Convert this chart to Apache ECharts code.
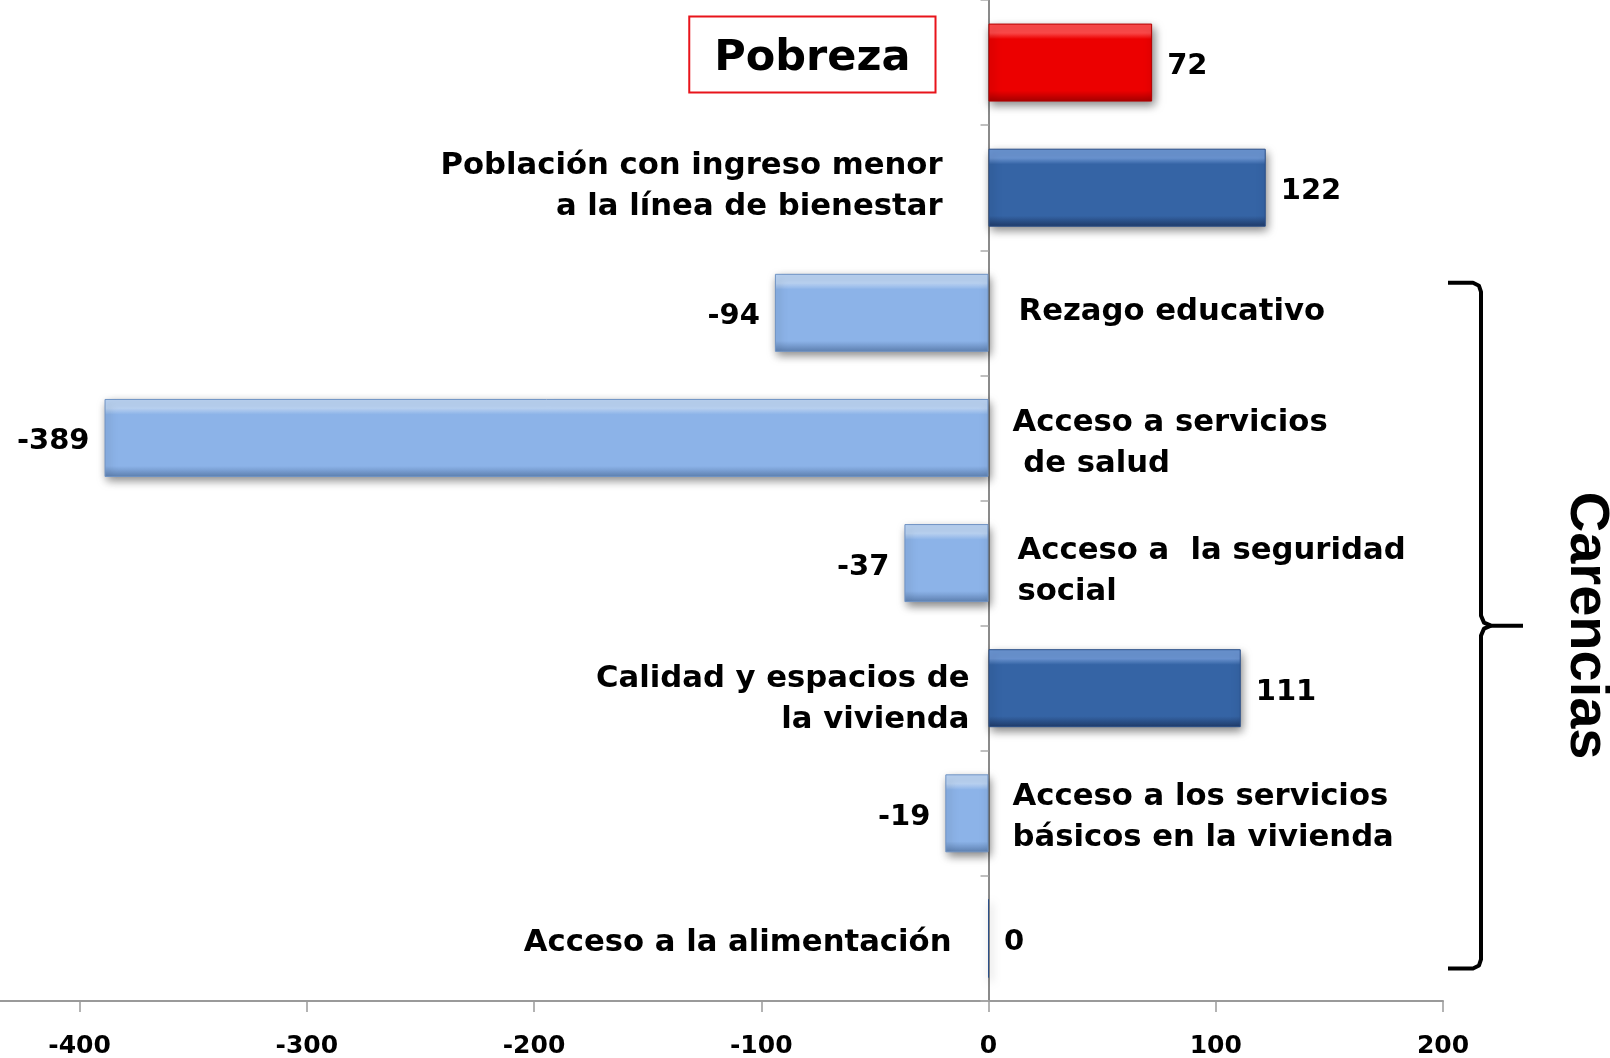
<!DOCTYPE html>
<html>
<head>
<meta charset="utf-8">
<script src="https://cdn.jsdelivr.net/npm/echarts@6/dist/echarts.min.js"></script>
<style>
    html, body { margin: 0; padding: 0; background: #fff; }
    #main { width: 1610px; height: 1058px; }
</style>
</head>
<body>
<div id="main"></div>
<script>
// datos
var categorias = [
    'Pobreza',
    'Población con ingreso menor\na la línea de bienestar',
    'Rezago educativo',
    'Acceso a servicios\n de salud',
    'Acceso a  la seguridad\nsocial',
    'Calidad y espacios de\nla vivienda',
    'Acceso a los servicios\nbásicos en la vivienda',
    'Acceso a la alimentación'
];
var valores = [72, 122, -94, -389, -37, 111, -19, 0];
var ticksX = [-400, -300, -200, -100, 0, 100, 200];
var grupo = 'Carencias';

// estilo de las etiquetas de categoria (distancia al eje, desplazamiento vertical)
var etqDist = [53, 46, 30, 24, 29, 19, 24, 37];
var etqDy = [-8, -1, -1, 6, 8, 11, 4, 5];

var FONT = 'DejaVu Sans';

function relleno(i, v) {
    var c;
    if (i === 0) c = ['#ff4a4a', '#ec0000', '#a80000'];
    else if (v >= 0) c = ['#6b95d3', '#3564a5', '#1f3b6a'];
    else c = ['#bcd5f5', '#8cb3e8', '#5f82b3'];
    return new echarts.graphic.LinearGradient(0, 0, 0, 1, [
        { offset: 0, color: c[0] },
        { offset: 0.12, color: c[0] },
        { offset: 0.2, color: c[1] },
        { offset: 0.86, color: c[1] },
        { offset: 1, color: c[2] }
    ]);
}

function borde(i, v) {
    if (i === 0) return '#b30000';
    return v >= 0 ? '#2a4f88' : '#6f93c4';
}

var chart = echarts.init(document.getElementById('main'));

chart.setOption({
    animation: false,
    grid: { left: 0, right: 167, top: 0, bottom: 57, containLabel: false, outerBoundsMode: 'none' },
    xAxis: {
        type: 'value',
        min: -435,
        max: 200,
        splitLine: { show: false },
        axisLine: { show: true, onZero: false, lineStyle: { color: '#9a9a9a', width: 2 } },
        axisTick: { show: true, customValues: ticksX, length: 11, lineStyle: { color: '#9a9a9a', width: 1.5 } },
        axisLabel: { customValues: ticksX, margin: 33, fontSize: 25, fontWeight: 'bold', color: '#000', fontFamily: FONT }
    },
    yAxis: {
        type: 'category',
        data: categorias,
        inverse: true,
        axisLine: { show: true, onZero: true, lineStyle: { color: '#8a8a8a', width: 2 } },
        axisTick: { show: true, length: 8, lineStyle: { color: '#aaa', width: 1.5 } },
        axisLabel: { show: false }
    },
    series: [
        {
            type: 'bar',
            barWidth: 78,
            data: valores.map(function (v, i) {
                return {
                    value: v,
                    itemStyle: { color: relleno(i, v), borderColor: borde(i, v), borderWidth: 1 },
                    label: { position: v < 0 ? 'left' : 'right' }
                };
            }),
            itemStyle: {
                shadowColor: 'rgba(0,0,0,0.5)',
                shadowBlur: 9,
                shadowOffsetX: 2,
                shadowOffsetY: 4
            },
            label: {
                show: true,
                distance: 15,
                offset: [0, 4],
                fontSize: 29,
                fontWeight: 'bold',
                fontFamily: FONT,
                color: '#000'
            }
        },
        {
            // nombres de categoria, del lado opuesto a la barra
            type: 'scatter',
            symbolSize: 0,
            silent: true,
            itemStyle: { opacity: 1 },
            data: categorias.map(function (c, i) {
                var izq = valores[i] >= 0;
                var lab = {
                    position: izq ? 'left' : 'right',
                    distance: etqDist[i],
                    offset: [0, etqDy[i]]
                };
                if (i === 0) {
                    lab.formatter = '{t|' + c + '}';
                    lab.borderColor = '#e8141b';
                    lab.borderWidth = 2;
                    lab.padding = [15, 25, 15, 25];
                    lab.rich = { t: { fontSize: 43, lineHeight: 46, fontWeight: 'bold', fontFamily: FONT, color: '#000', padding: [8, 0, 0, 0] } };
                }
                return { value: [0, i], label: lab };
            }),
            label: {
                show: true,
                opacity: 1,
                formatter: function (p) { return categorias[p.dataIndex]; },
                fontSize: 30.7,
                lineHeight: 41,
                fontWeight: 'bold',
                fontFamily: FONT,
                color: '#000'
            }
        }
    ]
});

// llave de "Carencias"
var yTop = chart.convertToPixel({ yAxisIndex: 0 }, 2) - 30;
var yBot = chart.convertToPixel({ yAxisIndex: 0 }, 7) + 30;
var yMid = (yTop + yBot) / 2;
var bx = 1481;

chart.setOption({
    graphic: [
        {
            type: 'polyline',
            shape: { points: [[1448, yTop], [1473, yTop], [1479, yTop + 3], [bx, yTop + 9], [bx, yMid - 10], [bx + 3, yMid - 3], [bx + 10, yMid], [1523, yMid]] },
            style: { stroke: '#000', lineWidth: 4, fill: null, lineJoin: 'round' }
        },
        {
            type: 'polyline',
            shape: { points: [[1448, yBot], [1473, yBot], [1479, yBot - 3], [bx, yBot - 9], [bx, yMid + 10], [bx + 3, yMid + 3], [bx + 10, yMid]] },
            style: { stroke: '#000', lineWidth: 4, fill: null, lineJoin: 'round' }
        },
        {
            type: 'text',
            x: 1586,
            y: yMid,
            rotation: -Math.PI / 2,
            style: {
                text: grupo,
                fontSize: 56,
                fontWeight: 'bold',
                fontFamily: 'Liberation Sans',
                fill: '#000',
                align: 'center',
                verticalAlign: 'middle'
            }
        }
    ]
});
</script>
</body>
</html>
